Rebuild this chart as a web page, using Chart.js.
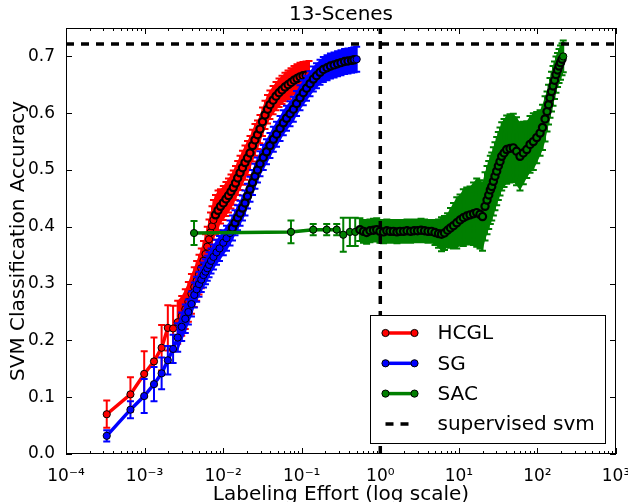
<!DOCTYPE html>
<html>
<head>
<meta charset="utf-8">
<script src="https://cdn.jsdelivr.net/npm/chart.js@4.4.0/dist/chart.umd.min.js"></script>
<style>
  html, body { margin: 0; padding: 0; background: #fff; }
  #wrap { width: 628px; height: 502px; }
</style>
</head>
<body>
<div id="wrap"><canvas id="chart" width="628" height="502"></canvas></div>
<script>
// ---- data ----
const chartTitle = '13-Scenes';
const xAxisTitle = 'Labeling Effort (log scale)';
const yAxisTitle = 'SVM Classification Accuracy';

const xTickValues = [1e-4, 1e-3, 1e-2, 1e-1, 1e0, 1e1, 1e2, 1e3];
const xTickLabels = ['10⁻⁴', '10⁻³', '10⁻²', '10⁻¹', '10⁰', '10¹', '10²', '10³'];
const yTickValues = [0.0, 0.1, 0.2, 0.3, 0.4, 0.5, 0.6, 0.7];
const yRange = [0, 0.75];

const svmAccuracy = 0.722;   // supervised svm reference level
const fullEffort = 1;        // labeling effort = 1 (vertical dashed line)

// HCGL (red)
const hcglX = [3.30e-4, 6.61e-4, 9.89e-4, 1.318e-3, 1.648e-3, 1.977e-3, 2.307e-3, 2.64e-3, 2.97e-3, 3.30e-3,
  3.61e-3, 3.95e-3, 4.29e-3, 4.60e-3, 4.93e-3, 5.27e-3, 5.62e-3, 5.96e-3, 6.28e-3, 6.61e-3,
  6.90e-3, 7.21e-3, 7.53e-3, 8.0e-3, 8.61e-3, 9.25e-3, 1.005e-2, 1.086e-2, 1.169e-2, 1.259e-2,
  1.346e-2, 1.436e-2, 1.531e-2, 1.641e-2, 1.762e-2, 1.897e-2, 2.04e-2, 2.198e-2, 2.366e-2, 2.54e-2,
  2.735e-2, 2.944e-2, 3.17e-2, 3.41e-2, 3.67e-2, 3.94e-2, 4.32e-2, 4.71e-2, 5.14e-2, 5.61e-2,
  6.12e-2, 6.70e-2, 7.31e-2, 7.98e-2, 8.71e-2, 9.51e-2, 0.1038, 0.1135, 0.1239];
const hcglY = [0.070, 0.105, 0.141, 0.163, 0.187, 0.222, 0.221, 0.232, 0.243, 0.255,
  0.268, 0.282, 0.294, 0.305, 0.316, 0.327, 0.340, 0.352, 0.365, 0.378,
  0.390, 0.401, 0.412, 0.421, 0.429, 0.436, 0.442, 0.449, 0.455, 0.462,
  0.469, 0.477, 0.486, 0.495, 0.504, 0.513, 0.521, 0.530, 0.543, 0.553,
  0.562, 0.572, 0.585, 0.597, 0.607, 0.615, 0.623, 0.630, 0.636, 0.641,
  0.646, 0.650, 0.654, 0.658, 0.661, 0.664, 0.666, 0.667, 0.668];
const hcglErr = [0.024, 0.030, 0.040, 0.042, 0.040, 0.040, 0.040, 0.038, 0.035, 0.035,
  0.035, 0.035, 0.035, 0.035, 0.035, 0.035, 0.035, 0.035, 0.035, 0.035,
  0.035, 0.035, 0.035, 0.035, 0.035, 0.030, 0.030, 0.030, 0.030, 0.030,
  0.030, 0.030, 0.030, 0.030, 0.030, 0.030, 0.030, 0.030, 0.028, 0.028,
  0.025, 0.025, 0.025, 0.025, 0.025, 0.025, 0.025, 0.025, 0.025, 0.025,
  0.025, 0.025, 0.025, 0.025, 0.025, 0.025, 0.024, 0.024, 0.024];

// SG (blue)
const sgX = [3.30e-4, 6.61e-4, 9.89e-4, 1.318e-3, 1.648e-3, 1.977e-3, 2.307e-3, 2.64e-3, 2.97e-3, 3.30e-3,
  3.61e-3, 3.95e-3, 4.29e-3, 4.60e-3, 4.93e-3, 5.27e-3, 5.62e-3, 5.96e-3, 6.28e-3, 6.61e-3,
  7.01e-3, 7.53e-3, 8.23e-3, 8.99e-3, 1.005e-2, 1.104e-2, 1.223e-2, 1.315e-2, 1.416e-2, 1.524e-2,
  1.641e-2, 1.762e-2, 1.897e-2, 2.04e-2, 2.198e-2, 2.366e-2, 2.54e-2, 2.735e-2, 2.944e-2, 3.24e-2,
  3.56e-2, 3.94e-2, 4.35e-2, 4.78e-2, 5.30e-2, 5.83e-2, 6.40e-2, 7.10e-2, 7.82e-2, 8.59e-2,
  9.51e-2, 0.1047, 0.1151, 0.1276, 0.1406, 0.1542, 0.1710, 0.1884, 0.210, 0.232,
  0.258, 0.286, 0.316, 0.351, 0.388, 0.431, 0.463, 0.501];
const sgY = [0.032, 0.078, 0.102, 0.123, 0.142, 0.165, 0.185, 0.205, 0.224, 0.238,
  0.250, 0.264, 0.280, 0.290, 0.299, 0.307, 0.315, 0.321, 0.327, 0.333,
  0.340, 0.347, 0.355, 0.362, 0.372, 0.380, 0.389, 0.398, 0.407, 0.416,
  0.424, 0.433, 0.442, 0.454, 0.466, 0.478, 0.489, 0.500, 0.511, 0.522,
  0.532, 0.543, 0.554, 0.563, 0.573, 0.583, 0.591, 0.599, 0.607, 0.617,
  0.627, 0.636, 0.644, 0.652, 0.660, 0.666, 0.672, 0.677, 0.680, 0.683,
  0.685, 0.687, 0.689, 0.691, 0.692, 0.693, 0.694, 0.695];
const sgErr = [0.010, 0.015, 0.030, 0.030, 0.028, 0.025, 0.025, 0.025, 0.025, 0.025,
  0.022, 0.022, 0.022, 0.022, 0.022, 0.022, 0.022, 0.022, 0.022, 0.022,
  0.022, 0.022, 0.022, 0.022, 0.022, 0.022, 0.022, 0.022, 0.022, 0.022,
  0.022, 0.022, 0.022, 0.022, 0.022, 0.022, 0.022, 0.022, 0.022, 0.022,
  0.022, 0.022, 0.022, 0.022, 0.022, 0.022, 0.022, 0.022, 0.022, 0.022,
  0.022, 0.022, 0.022, 0.022, 0.022, 0.022, 0.022, 0.022, 0.022, 0.022,
  0.022, 0.022, 0.022, 0.022, 0.022, 0.022, 0.022, 0.022];

// SAC (green)
const sacX = [4.26e-3, 0.073, 0.14, 0.208, 0.279, 0.338, 0.41, 0.48, 0.55, 0.611,
  0.67, 0.739, 0.82, 0.90, 0.99, 1.10, 1.21, 1.33, 1.47, 1.63,
  1.78, 1.98, 2.19, 2.43, 2.69, 2.98, 3.30, 3.66, 4.05, 4.49,
  4.97, 5.51, 6.01, 6.56, 7.18, 7.83, 8.55, 9.40, 10.35, 11.40,
  12.59, 13.87, 15.38, 16.87, 18.58, 20.0, 21.53, 22.82, 23.99, 25.14,
  26.2, 27.5, 28.8, 30.3, 31.8, 33.4, 35.1, 37.6, 40.6, 44.8,
  49.3, 54.2, 60.0, 66.1, 73.1, 80.5, 88.7, 97.9, 108, 116.1,
  125.0, 132.5, 138.4, 144.5, 151.1, 157.9, 164.9, 172.2, 180.3, 188.4,
  196.8, 205.6, 213];
const sacY = [0.389, 0.391, 0.395, 0.395, 0.395, 0.386, 0.391, 0.391, 0.395, 0.392,
  0.390, 0.393, 0.394, 0.395, 0.392, 0.391, 0.393, 0.392, 0.392, 0.391,
  0.392, 0.392, 0.393, 0.392, 0.393, 0.393, 0.394, 0.393, 0.392, 0.392,
  0.390, 0.388, 0.387, 0.389, 0.394, 0.398, 0.402, 0.407, 0.412, 0.416,
  0.419, 0.421, 0.423, 0.425, 0.422, 0.418, 0.436, 0.447, 0.456, 0.465,
  0.471, 0.480, 0.489, 0.498, 0.507, 0.515, 0.524, 0.530, 0.536, 0.538,
  0.539, 0.533, 0.524, 0.530, 0.536, 0.545, 0.550, 0.557, 0.565, 0.575,
  0.590, 0.603, 0.615, 0.627, 0.638, 0.648, 0.658, 0.668, 0.676, 0.683,
  0.689, 0.695, 0.700];
const sacErr = [0.021, 0.020, 0.010, 0.010, 0.010, 0.030, 0.025, 0.025, 0.020, 0.020,
  0.020, 0.020, 0.020, 0.020, 0.020, 0.020, 0.020, 0.020, 0.020, 0.020,
  0.020, 0.020, 0.020, 0.020, 0.020, 0.020, 0.020, 0.020, 0.020, 0.020,
  0.022, 0.025, 0.030, 0.030, 0.030, 0.035, 0.040, 0.045, 0.045, 0.050,
  0.050, 0.050, 0.055, 0.060, 0.060, 0.060, 0.060, 0.060, 0.060, 0.060,
  0.060, 0.060, 0.060, 0.060, 0.060, 0.060, 0.060, 0.060, 0.060, 0.060,
  0.060, 0.060, 0.060, 0.055, 0.050, 0.050, 0.050, 0.045, 0.040, 0.040,
  0.040, 0.035, 0.035, 0.035, 0.035, 0.035, 0.033, 0.032, 0.030, 0.030,
  0.030, 0.028, 0.028];

const FONT = 'DejaVu Sans';
Chart.defaults.font.family = FONT;
Chart.defaults.color = '#000';

const toPoints = (xs, ys) => xs.map((x, i) => ({ x: x, y: ys[i] }));

// darkFrom: beyond this effort the original's markers pile up so densely that
// their black edges dominate; a heavier edge stands in for that pile-up.
// The last marker sits on top of the pile, so it keeps a normal edge.
function curve(label, xs, ys, errs, color, order, darkFrom) {
  return {
    label: label,
    data: toPoints(xs, ys),
    errors: errs,
    borderColor: color,
    backgroundColor: color,
    borderWidth: 3.5,
    pointRadius: 3.6,
    pointBackgroundColor: color,
    pointBorderColor: '#000',
    pointBorderWidth: c => {
      if (!c.raw || c.dataIndex === xs.length - 1) return 1;
      return c.raw.x >= darkFrom ? 2.2 : 1;
    },
    tension: 0,
    fill: false,
    order: order
  };
}

// vertical error bars, drawn right before each curve.
// where neighbouring bars nearly touch, the gap between them is filled so
// the dense part reads as one band, like the overlapping bars in the original
const errorBars = {
  id: 'errorBars',
  beforeDatasetDraw(chart, args) {
    const ds = chart.data.datasets[args.index];
    if (!ds.errors) return;
    const { ctx, chartArea, scales } = chart;
    const cap = 3.5;
    const pts = args.meta.data.map((pt, i) => ({
      x: pt.x,
      top: scales.y.getPixelForValue(ds.data[i].y + ds.errors[i]),
      bot: scales.y.getPixelForValue(ds.data[i].y - ds.errors[i])
    }));
    ctx.save();
    ctx.beginPath();
    ctx.rect(chartArea.left, chartArea.top, chartArea.width, chartArea.height);
    ctx.clip();
    ctx.fillStyle = ds.borderColor;
    for (let i = 0; i < pts.length - 1; i++) {
      const p = pts[i], q = pts[i + 1];
      if (q.x - p.x > 4.2) continue;
      ctx.beginPath();
      ctx.moveTo(p.x, p.top); ctx.lineTo(q.x, q.top);
      ctx.lineTo(q.x, q.bot); ctx.lineTo(p.x, p.bot);
      ctx.closePath();
      ctx.fill();
    }
    ctx.strokeStyle = ds.borderColor;
    ctx.lineWidth = 2;
    ctx.beginPath();
    pts.forEach(p => {
      ctx.moveTo(p.x, p.top); ctx.lineTo(p.x, p.bot);
      ctx.moveTo(p.x - cap, p.top); ctx.lineTo(p.x + cap, p.top);
      ctx.moveTo(p.x - cap, p.bot); ctx.lineTo(p.x + cap, p.bot);
    });
    ctx.stroke();
    ctx.restore();
  }
};

// box around the plot with inward ticks on all four sides
const axisFrame = {
  id: 'axisFrame',
  afterDatasetsDraw(chart) {
    const { ctx, chartArea: a, scales: { x, y } } = chart;
    const major = 6, minor = 3;
    ctx.save();
    ctx.strokeStyle = '#000';
    ctx.lineWidth = 1;
    ctx.beginPath();
    const xTick = (v, len) => {
      const px = Math.round(x.getPixelForValue(v)) + 0.5;
      ctx.moveTo(px, a.bottom); ctx.lineTo(px, a.bottom - len);
      ctx.moveTo(px, a.top); ctx.lineTo(px, a.top + len);
    };
    xTickValues.forEach((v, i) => {
      xTick(v, major);
      if (i < xTickValues.length - 1) {
        for (let m = 2; m <= 9; m++) xTick(v * m, minor);
      }
    });
    yTickValues.forEach(v => {
      const py = Math.round(y.getPixelForValue(v)) + 0.5;
      ctx.moveTo(a.left, py); ctx.lineTo(a.left + major, py);
      ctx.moveTo(a.right, py); ctx.lineTo(a.right - major, py);
    });
    ctx.stroke();
    ctx.strokeRect(Math.round(a.left) + 0.5, Math.round(a.top) + 0.5,
      Math.round(a.width) - 1, Math.round(a.height) - 1);
    ctx.restore();
  }
};

// framed legend in the lower right
const legendBox = {
  id: 'legendBox',
  afterDraw(chart) {
    const ctx = chart.ctx;
    const items = chart.data.datasets.filter(d => d.label);
    const x0 = 370.5, y0 = 315.5, w = 235, h = 128;
    ctx.save();
    ctx.fillStyle = '#fff';
    ctx.fillRect(x0, y0, w, h);
    ctx.strokeStyle = '#000';
    ctx.lineWidth = 1;
    ctx.strokeRect(x0, y0, w, h);
    items.forEach((d, i) => {
      const ly = y0 + 17.5 + i * 30.3;
      const a = x0 + 15, b = x0 + 44;
      ctx.beginPath();
      ctx.setLineDash(d.borderDash || []);
      ctx.strokeStyle = d.borderColor;
      ctx.lineWidth = d.borderWidth;
      ctx.moveTo(a, ly); ctx.lineTo(b, ly);
      ctx.stroke();
      ctx.setLineDash([]);
      if (d.pointRadius > 0) {
        [a, b].forEach(px => {
          ctx.beginPath();
          ctx.arc(px, ly, d.pointRadius, 0, Math.PI * 2);
          ctx.fillStyle = d.pointBackgroundColor;
          ctx.fill();
          ctx.lineWidth = 1;
          ctx.strokeStyle = '#000';
          ctx.stroke();
        });
      }
      ctx.fillStyle = '#000';
      ctx.font = '20px "' + FONT + '"';
      ctx.textBaseline = 'middle';
      ctx.textAlign = 'left';
      ctx.fillText(d.label, x0 + 67, ly + 1);
    });
    ctx.restore();
  }
};

const datasets = [
  curve('HCGL', hcglX, hcglY, hcglErr, '#ff0000', 4, 8e-3),
  curve('SG', sgX, sgY, sgErr, '#0000ff', 3, 1.3e-2),
  curve('SAC', sacX, sacY, sacErr, '#007f00', 2, 0.5),
  {
    label: 'supervised svm',
    data: [{ x: xTickValues[0], y: svmAccuracy }, { x: xTickValues[xTickValues.length - 1], y: svmAccuracy }],
    borderColor: '#000', borderWidth: 3.5, borderDash: [8, 7], pointRadius: 0, order: 1
  },
  {
    label: '',
    data: [{ x: fullEffort, y: yRange[0] }, { x: fullEffort, y: yRange[1] }],
    borderColor: '#000', borderWidth: 3.5, borderDash: [8, 7], pointRadius: 0, order: 1
  }
];

new Chart(document.getElementById('chart'), {
  type: 'line',
  data: { datasets: datasets },
  options: {
    responsive: false,
    animation: false,
    devicePixelRatio: 1,
    layout: { padding: { left: 0, right: 12, top: 0, bottom: 0 } },
    plugins: {
      legend: { display: false },
      tooltip: { enabled: false },
      title: {
        display: true,
        text: chartTitle,
        fullSize: false,
        color: '#000',
        font: { family: FONT, size: 20, weight: 'normal' },
        padding: { top: 3, bottom: 1 }
      }
    },
    scales: {
      x: {
        type: 'logarithmic',
        min: xTickValues[0],
        max: xTickValues[xTickValues.length - 1],
        grid: { display: false },
        border: { display: false },
        afterBuildTicks: s => { s.ticks = xTickValues.map(v => ({ value: v })); },
        afterFit: s => { s.height = 48; s.paddingLeft = 0; s.paddingRight = 0; },
        ticks: {
          autoSkip: false, maxRotation: 0, minRotation: 0, padding: 4,
          font: { family: FONT, size: 17 },
          callback: (v, i) => xTickLabels[i]
        },
        title: {
          display: true, text: xAxisTitle,
          font: { family: FONT, size: 20, lineHeight: 0.7 },
          padding: { top: 0, bottom: 0 }
        }
      },
      y: {
        type: 'linear',
        min: yRange[0],
        max: yRange[1],
        grid: { display: false },
        border: { display: false },
        afterBuildTicks: s => { s.ticks = yTickValues.map(v => ({ value: v })); },
        afterFit: s => { s.width = 66; s.paddingTop = 0; s.paddingBottom = 0; },
        ticks: {
          padding: 3,
          font: { family: FONT, size: 17 },
          callback: v => v.toFixed(1)
        },
        title: {
          display: true, text: yAxisTitle,
          font: { family: FONT, size: 20 },
          padding: { top: 7, bottom: 0 }
        }
      }
    }
  },
  plugins: [errorBars, axisFrame, legendBox]
});
</script>
</body>
</html>
